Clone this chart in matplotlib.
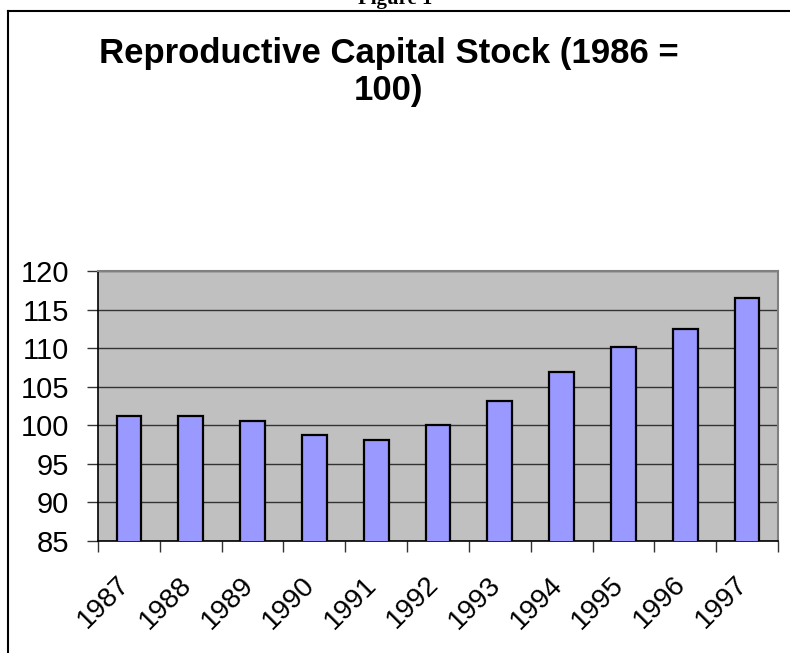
import matplotlib.pyplot as plt
from matplotlib.ticker import MultipleLocator, FixedLocator
from matplotlib.transforms import ScaledTranslation

# data
years = ["1987", "1988", "1989", "1990", "1991", "1992",
         "1993", "1994", "1995", "1996", "1997"]
values = [101.2, 101.2, 100.5, 98.8, 98.1, 100.0,
          103.1, 106.9, 110.1, 112.5, 116.5]

fig = plt.figure(figsize=(7.9, 6.53), dpi=100)
ax = fig.add_axes([98 / 790, 1 - 541 / 653, 680 / 790, 270 / 653])

x = list(range(len(years)))
ax.bar(x, values, width=0.4, bottom=0, color="#9999FF",
       edgecolor="black", linewidth=1.6, zorder=3)

ax.set_facecolor("#C0C0C0")
ax.set_xlim(-0.5, len(years) - 0.5)
ax.set_ylim(85, 120)
ax.yaxis.set_major_locator(MultipleLocator(5))
ax.grid(axis="y", color="#333333", linewidth=1.0, zorder=1)

ax.set_xticks(x)
ax.set_xticklabels(years, rotation=45, ha="right", va="top",
                   fontsize=20, family="Liberation Sans")
ax.tick_params(axis="x", which="major", length=0, pad=22)
# nudge the rotated year labels a bit to the right, as in the original
shift = ScaledTranslation(6 / 100, 0, fig.dpi_scale_trans)
for lab in ax.get_xticklabels():
    lab.set_transform(lab.get_transform() + shift)
ax.xaxis.set_minor_locator(FixedLocator([i + 0.5 for i in range(-1, len(years))]))
ax.tick_params(axis="x", which="minor", length=8, width=1, color="#333333")
ax.tick_params(axis="y", length=8, width=1, color="#333333", pad=13,
               labelsize=21)
for lab in ax.get_yticklabels():
    lab.set_family("Liberation Sans")

ax.spines["left"].set_color("black")
ax.spines["bottom"].set_color("black")
ax.spines["left"].set_linewidth(1.2)
ax.spines["bottom"].set_linewidth(1.2)
ax.spines["top"].set_color("#808080")
ax.spines["right"].set_color("#808080")
ax.spines["top"].set_linewidth(1.5)
ax.spines["right"].set_linewidth(1.5)

# title, two lines like the original
fig.text(389 / 790, 1 - 63 / 653, "Reproductive Capital Stock (1986 =",
         ha="center", va="baseline", fontsize=25, fontweight="bold",
         family="Liberation Sans")
fig.text(389 / 790, 1 - 100 / 653, "100)",
         ha="center", va="baseline", fontsize=25, fontweight="bold",
         family="Liberation Sans")

# page caption cut off at top and the chart frame
fig.text(0.5, 1 - 4 / 653, "Figure 1", ha="center", va="baseline",
         fontsize=15, fontweight="bold", family="Liberation Serif")
fig.add_artist(plt.Line2D([8 / 790, 8 / 790], [0, 1 - 11 / 653],
                          transform=fig.transFigure, color="black", linewidth=1.5))
fig.add_artist(plt.Line2D([8 / 790, 1], [1 - 11 / 653, 1 - 11 / 653],
                          transform=fig.transFigure, color="black", linewidth=1.5))

fig.savefig("out.png", dpi=100)
